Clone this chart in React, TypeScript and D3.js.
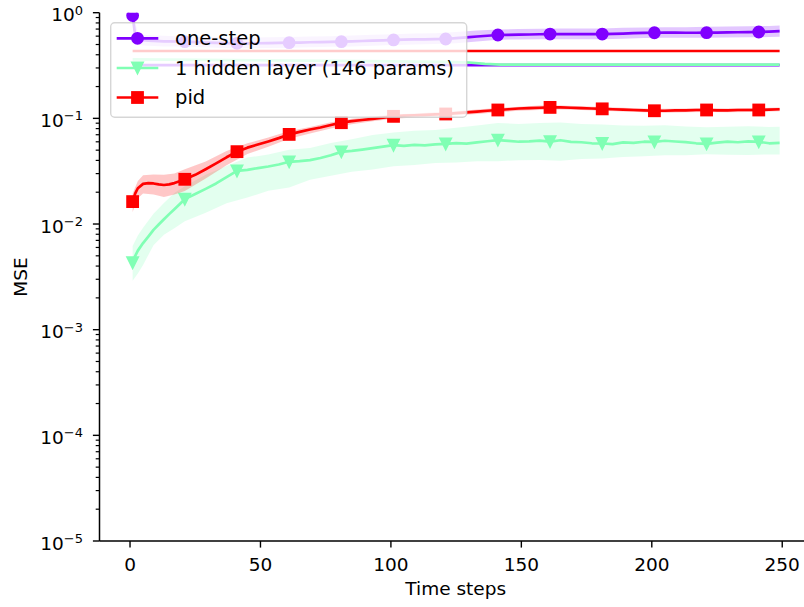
import * as d3 from "d3";

// time steps where the curves are sampled
const timeSteps = [
  1, 2, 3, 5, 7, 9, 11, 13, 15, 17, 19,
  21, 25, 29, 33, 37, 41, 45, 49, 53, 57, 61, 65, 69, 73, 77, 81, 85, 89, 93, 97,
  101, 105, 109, 113, 117, 121, 125, 129, 133, 137, 141, 145, 149, 153, 157, 161,
  165, 169, 173, 177, 181, 185, 189, 193, 197, 201, 205, 209, 213, 217, 221, 225,
  229, 233, 237, 241, 245, 249,
];

const oneStepMse = [
  0.94, 0.6, 0.565, 0.55, 0.545, 0.54, 0.538, 0.536, 0.535, 0.534, 0.533,
  0.532, 0.527, 0.522, 0.518, 0.515, 0.513, 0.513, 0.514, 0.516, 0.518, 0.52, 0.522, 0.525, 0.527, 0.53, 0.532, 0.536, 0.54, 0.544, 0.548,
  0.552, 0.555, 0.558, 0.56, 0.562, 0.564, 0.574, 0.585, 0.595, 0.605, 0.615, 0.618, 0.62, 0.622, 0.625, 0.628,
  0.628, 0.628, 0.627, 0.627, 0.628, 0.631, 0.635, 0.64, 0.644, 0.646, 0.647, 0.647, 0.646, 0.646, 0.647, 0.649,
  0.651, 0.653, 0.655, 0.657, 0.662, 0.668,
];

const hiddenMse = [
  0.0043, 0.005, 0.0056, 0.0066, 0.0076, 0.0088, 0.0099, 0.0111, 0.0124, 0.0138, 0.0154,
  0.0172, 0.0192, 0.0215, 0.0242, 0.0278, 0.0318, 0.0326, 0.0338, 0.035, 0.0366, 0.0388, 0.0393, 0.0402, 0.0422, 0.0448, 0.0482, 0.0492, 0.0506, 0.0522, 0.0541,
  0.0558, 0.0549, 0.0562, 0.0555, 0.0567, 0.0573, 0.0582, 0.0576, 0.0592, 0.0607, 0.0623, 0.0611, 0.0601, 0.0606, 0.0616, 0.0603,
  0.0621, 0.06, 0.0594, 0.0581, 0.0578, 0.0571, 0.0592, 0.0586, 0.0601, 0.06, 0.0614, 0.0604, 0.0596, 0.0581, 0.0574, 0.059,
  0.0602, 0.0594, 0.0606, 0.06, 0.0581, 0.0586,
];

const pidMse = [
  0.0163, 0.0195, 0.0218, 0.024, 0.0244, 0.0242, 0.0237, 0.0234, 0.0237, 0.0244, 0.0254,
  0.0265, 0.0292, 0.033, 0.0375, 0.0428, 0.0484, 0.0528, 0.0565, 0.0605, 0.065, 0.0705, 0.0745, 0.0785, 0.082, 0.0865, 0.091, 0.094, 0.0965, 0.099, 0.1015,
  0.1045, 0.106, 0.107, 0.108, 0.109, 0.11, 0.112, 0.114, 0.116, 0.118, 0.12, 0.122, 0.124, 0.125, 0.126, 0.127,
  0.127, 0.126, 0.125, 0.124, 0.123, 0.122, 0.121, 0.12, 0.119, 0.118, 0.118, 0.119, 0.119, 0.12, 0.12, 0.119,
  0.119, 0.12, 0.12, 0.12, 0.121, 0.122,
];

// spread bands (coarser sampling)
const bandSteps = [
  1, 3, 5, 9, 13, 17, 21, 29, 37, 45, 53, 61, 69, 77, 85, 93, 101, 109, 117, 125,
  133, 141, 149, 157, 165, 173, 181, 189, 197, 205, 213, 221, 229, 237, 245, 249,
];

const oneStepLow = [
  0.84, 0.5, 0.49, 0.485, 0.48, 0.478, 0.478, 0.47, 0.462, 0.46, 0.463, 0.466, 0.47, 0.475, 0.48, 0.487, 0.495, 0.5, 0.505, 0.515,
  0.535, 0.555, 0.558, 0.56, 0.562, 0.562, 0.562, 0.568, 0.575, 0.578, 0.578, 0.58, 0.582, 0.585, 0.588, 0.592,
];
const oneStepHigh = [
  1.05, 0.64, 0.62, 0.61, 0.605, 0.6, 0.6, 0.59, 0.58, 0.58, 0.585, 0.59, 0.595, 0.6, 0.61, 0.62, 0.625, 0.635, 0.64, 0.655,
  0.68, 0.695, 0.7, 0.705, 0.71, 0.71, 0.71, 0.72, 0.725, 0.73, 0.73, 0.735, 0.74, 0.745, 0.75, 0.755,
];

const hiddenLow = [
  0.0029, 0.0034, 0.0041, 0.0063, 0.0079, 0.0091, 0.0106, 0.0128, 0.0157, 0.0178, 0.0207, 0.0222, 0.0262, 0.0287, 0.0312, 0.0328, 0.0352, 0.0362, 0.0378, 0.0383,
  0.0392, 0.0393, 0.0402, 0.0403, 0.0398, 0.0412, 0.0418, 0.0432, 0.0438, 0.0447, 0.0448, 0.0457, 0.0453, 0.0451, 0.0456, 0.0454,
];
const hiddenHigh = [
  0.0062, 0.0078, 0.0092, 0.0125, 0.0158, 0.0197, 0.0228, 0.0292, 0.0355, 0.0425, 0.0455, 0.0505, 0.0525, 0.0585, 0.0635, 0.0695, 0.0735, 0.0765, 0.0775, 0.0815,
  0.0855, 0.0905, 0.0885, 0.0905, 0.0915, 0.0885, 0.0875, 0.0855, 0.0852, 0.0862, 0.0838, 0.0822, 0.0832, 0.0842, 0.0828, 0.0832,
];

const pidLow = [
  0.013, 0.0175, 0.0195, 0.019, 0.018, 0.019, 0.0205, 0.027, 0.036, 0.046, 0.054, 0.064, 0.072, 0.08, 0.088, 0.094, 0.099, 0.102, 0.104, 0.107,
  0.11, 0.114, 0.118, 0.12, 0.121, 0.12, 0.118, 0.116, 0.114, 0.113, 0.114, 0.115, 0.114, 0.115, 0.116, 0.117,
];
const pidHigh = [
  0.0195, 0.0255, 0.029, 0.0295, 0.0292, 0.03, 0.033, 0.039, 0.049, 0.058, 0.066, 0.076, 0.083, 0.092, 0.099, 0.104, 0.109, 0.111, 0.114, 0.117,
  0.121, 0.125, 0.129, 0.132, 0.132, 0.13, 0.128, 0.126, 0.124, 0.123, 0.124, 0.125, 0.124, 0.125, 0.126, 0.127,
];

// flat reference levels
const baselineSteps = [1, 40, 80, 120, 130, 136, 142, 180, 220, 249];
const oneStepBaseline = [0.319, 0.319, 0.319, 0.319, 0.319, 0.319, 0.319, 0.319, 0.319, 0.319];
const hiddenBaseline = [0.362, 0.356, 0.35, 0.342, 0.338, 0.328, 0.323, 0.322, 0.323, 0.323];
const pidBaseline = [0.434, 0.434, 0.434, 0.434, 0.434, 0.434, 0.434, 0.434, 0.434, 0.434];

const xTicks = [0, 50, 100, 150, 200, 250];
const yTickExps = [0, -1, -2, -3, -4, -5];

const x = d3.scaleLinear().domain([-11.7, 261.6]).range([99.5, 812.5]);
const y = d3.scaleLog().domain([1e-5, 1]).range([541, 12.7]);

const FONT = "DejaVu Sans, sans-serif";
const MS = 11;

function Marker({ kind, cx, cy, color }: { kind: string; cx: number; cy: number; color: string }) {
  const h = MS / 2;
  if (kind === "circle") return <circle cx={cx} cy={cy} r={h} fill={color} stroke={color} strokeWidth={1.8} />;
  if (kind === "square")
    return <rect x={cx - h} y={cy - h} width={MS} height={MS} fill={color} stroke={color} strokeWidth={1.8} />;
  return (
    <path
      d={`M${cx - h},${cy - h}L${cx + h},${cy - h}L${cx},${cy + h}Z`}
      fill={color}
      stroke={color}
      strokeWidth={1.8}
      strokeLinejoin="miter"
    />
  );
}

function App() {
  const series = [
    { name: "one-step", color: "#8000ff", mean: oneStepMse, low: oneStepLow, high: oneStepHigh, base: oneStepBaseline, marker: "circle" },
    { name: "1 hidden layer (146 params)", color: "#80ffb4", mean: hiddenMse, low: hiddenLow, high: hiddenHigh, base: hiddenBaseline, marker: "triangle" },
    { name: "pid", color: "#ff0000", mean: pidMse, low: pidLow, high: pidHigh, base: pidBaseline, marker: "square" },
  ];

  const line = d3
    .line<[number, number]>()
    .x((d) => x(d[0]))
    .y((d) => y(d[1]));
  const area = d3
    .area<[number, number, number]>()
    .x((d) => x(d[0]))
    .y0((d) => y(d[1]))
    .y1((d) => y(d[2]));

  const minor: number[] = [];
  for (let e = -5; e < 0; e++) for (let m = 2; m < 10; m++) minor.push(m * Math.pow(10, e));

  const legendRows = [38.3, 68, 97.5];

  return (
    <svg width={804} height={607} style={{ position: "absolute", left: 0, top: 0, background: "#fff" }}>
      <defs>
        <clipPath id="plot">
          <rect x={99.5} y={12.7} width={713} height={528.3} />
        </clipPath>
      </defs>
      <g clipPath="url(#plot)">
        {series.map((s) => (
          <g key={s.name}>
            <path
              d={area(bandSteps.map((t, i) => [t, s.low[i], s.high[i]] as [number, number, number])) || ""}
              fill={s.color}
              fillOpacity={0.22}
            />
            <path
              d={line(baselineSteps.map((t, i) => [t, s.base[i]] as [number, number])) || ""}
              fill="none"
              stroke={s.color}
              strokeWidth={2.7}
            />
            <path
              d={line(timeSteps.map((t, i) => [t, s.mean[i]] as [number, number])) || ""}
              fill="none"
              stroke={s.color}
              strokeWidth={2.7}
              strokeLinejoin="round"
            />
            {timeSteps.map((t, i) =>
              (t - 1) % 20 === 0 ? <Marker key={t} kind={s.marker} cx={x(t)} cy={y(s.mean[i])} color={s.color} /> : null
            )}
          </g>
        ))}
      </g>

      {/* spines */}
      <line x1={99.5} y1={12.7} x2={99.5} y2={541} stroke="#000" strokeWidth={1.5} />
      <line x1={99.5} y1={541} x2={812} y2={541} stroke="#000" strokeWidth={1.5} />

      {/* x axis */}
      {xTicks.map((t) => (
        <g key={t}>
          <line x1={x(t)} x2={x(t)} y1={541} y2={547.6} stroke="#000" strokeWidth={1.4} />
          <text x={x(t)} y={571} textAnchor="middle" fontFamily={FONT} fontSize={18.5} fill="#000">
            {t}
          </text>
        </g>
      ))}
      <text x={455.7} y={595} textAnchor="middle" fontFamily={FONT} fontSize={18.5} fill="#000">
        Time steps
      </text>

      {/* y axis */}
      {minor.map((v) => (
        <line key={v} x1={95.7} x2={99.5} y1={y(v)} y2={y(v)} stroke="#000" strokeWidth={1.2} />
      ))}
      {yTickExps.map((e) => {
        const ty = y(Math.pow(10, e));
        return (
          <g key={e}>
            <line x1={92.9} x2={99.5} y1={ty} y2={ty} stroke="#000" strokeWidth={1.4} />
            <text x={83} y={ty + 8.5} textAnchor="end" fontFamily={FONT} fontSize={18.5} fill="#000">
              10
              <tspan dy={-6.5} fontSize={13}>
                {e === 0 ? "0" : `\u2212${-e}`}
              </tspan>
            </text>
          </g>
        );
      })}
      <text
        transform="translate(27,277) rotate(-90)"
        textAnchor="middle"
        fontFamily={FONT}
        fontSize={18.5}
        fill="#000"
      >
        MSE
      </text>

      {/* legend */}
      <rect x={110.7} y={22.7} width={356} height={94.6} rx={4} fill="#fff" fillOpacity={0.8} stroke="#ccc" strokeOpacity={0.8} strokeWidth={1.4} />
      {series.map((s, i) => (
        <g key={s.name}>
          <line x1={116.7} x2={158.3} y1={legendRows[i]} y2={legendRows[i]} stroke={s.color} strokeWidth={2.7} />
          <Marker kind={s.marker} cx={137.5} cy={legendRows[i]} color={s.color} />
          <text x={175} y={legendRows[i] + 6.5} fontFamily={FONT} fontSize={19.5} fill="#000">
            {s.name}
          </text>
        </g>
      ))}
    </svg>
  );
}

export default App;
